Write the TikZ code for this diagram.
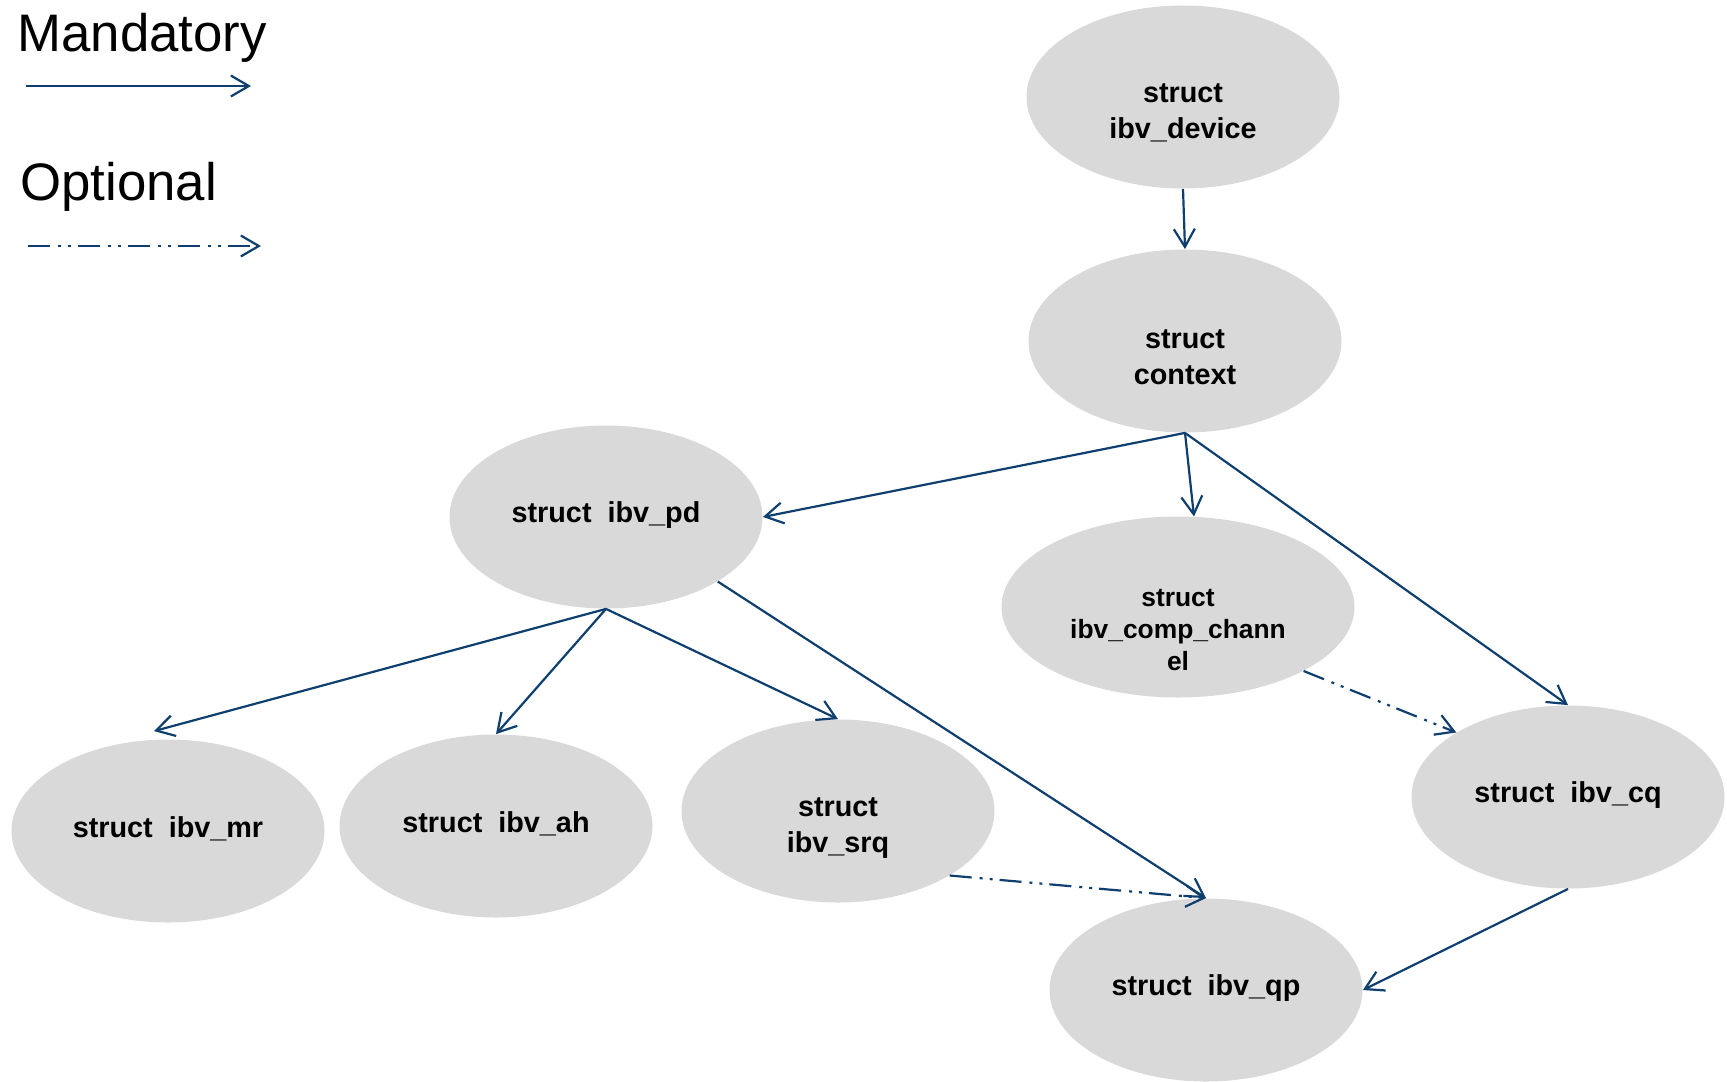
\documentclass[tikz,border=0pt]{standalone}
\usepackage{fontspec}
\setmainfont{Liberation Sans}
\usetikzlibrary{shapes.geometric,arrows.meta,positioning}
\definecolor{linkblue}{HTML}{0F3F6E}
\definecolor{structgray}{HTML}{D9D9D9}

\begin{document}
\begin{tikzpicture}[x=0.5pt,y=-0.5pt,
    blob/.style={ellipse,fill=structgray,inner sep=0pt,minimum width=156.5pt,minimum height=91.5pt},
    lbl/.style={align=center,inner sep=0pt,font=\fontsize{14.4}{17.8}\selectfont\bfseries},
    legend/.style={anchor=base west,inner sep=0pt,font=\fontsize{26.4}{30}\selectfont},
    must/.style={draw=linkblue,line width=1.1pt,-{Straight Barb[length=9pt,width=10.5pt]}},
    maybe/.style={must,dash pattern=on 11pt off 4pt on 1.5pt off 3.5pt on 1.5pt off 3.5pt}]
  \useasboundingbox (0,0) rectangle (1727,1081);
  % legend
  \node[legend] (mand) at (17,52) {Mandatory};
  \coordinate (m1) at (26,86);
  \coordinate (m2) at (251,86);
  \draw[must] (m1) -- (m2);
  \node[legend] (opt) at (20,200) {Optional};
  \coordinate (o1) at (28,246);
  \coordinate (o2) at (261,246);
  \draw[maybe] (o1) -- (o2);
  % structs
  \node[blob] (dev) at (1183,97) {};
  \node[lbl] (devtxt) at ([yshift=-8pt]dev.center) {struct\\ibv\_device};
  \node[blob] (ctx) at (1185,341) {};
  \node[lbl] (ctxtxt) at ([yshift=-8pt]ctx.center) {struct\\context};
  \node[blob] (pd) at (606,517) {};
  \node[lbl] (pdtxt) at ([yshift=1pt]pd.center) {struct\ \ ibv\_pd};
  \node[blob,minimum width=176.5pt,minimum height=90.5pt] (comp) at (1178,607) {};
  \node[lbl,font=\fontsize{13.2}{16.1}\selectfont\bfseries] (comptxt) at ([yshift=-11.5pt]comp.center) {struct\\ibv\_comp\_chann\\el};
  \node[blob] (mr) at (168,831) {};
  \node[lbl] (mrtxt) at ([yshift=1pt]mr.center) {struct\ \ ibv\_mr};
  \node[blob] (ah) at (496,826) {};
  \node[lbl] (ahtxt) at ([yshift=1pt]ah.center) {struct\ \ ibv\_ah};
  \node[blob] (srq) at (838,811) {};
  \node[lbl] (srqtxt) at ([yshift=-8.5pt]srq.center) {struct\\ibv\_srq};
  \node[blob] (cq) at (1568,797) {};
  \node[lbl] (cqtxt) at ([yshift=1pt]cq.center) {struct\ \ ibv\_cq};
  \node[blob] (qp) at (1206,990) {};
  \node[lbl] (qptxt) at ([yshift=1pt]qp.center) {struct\ \ ibv\_qp};
  % links
  \draw[must] (dev.south) -- (ctx.north);
  \draw[must] (ctx.south) -- (pd.east);
  \draw[must] (ctx.south) -- (comp.80);
  \draw[must] (ctx.south) -- (cq.north);
  \draw[must] (pd.south) -- ([shift={(-14,-8)}]mr.north);
  \draw[must] (pd.south) -- (ah.north);
  \draw[must] (pd.south) -- (srq.north);
  \draw[must] (pd.-30) -- (qp.north);
  \draw[must] (cq.south) -- (qp.east);
  \draw[maybe] (comp.-27) -- (cq.150);
  \draw[maybe] (srq.-30) -- (qp.north);
\end{tikzpicture}
\end{document}
